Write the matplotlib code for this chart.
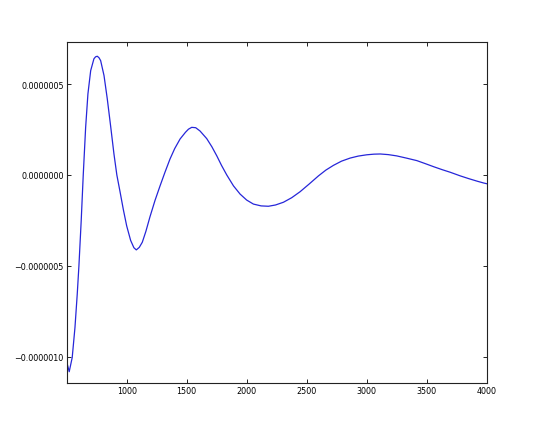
import matplotlib
matplotlib.use("Agg")
import matplotlib.pyplot as plt
from matplotlib.ticker import FuncFormatter

# data (x, y in units of 1e-7)
x_vals = [505, 521, 546, 569, 588, 602, 621, 638, 658, 677, 700, 727, 741, 755, 769,
          783, 811, 838, 866, 894, 918, 944, 972, 1000, 1033, 1060, 1080, 1105,
          1130, 1160, 1194, 1236, 1278, 1319, 1361, 1400, 1445, 1490, 1515, 1542,
          1575, 1611, 1667, 1710, 1751, 1790, 1834, 1890, 1945, 2000, 2056, 2120,
          2181, 2240, 2306, 2375, 2445, 2520, 2598, 2660, 2723, 2790, 2862, 2930,
          3000, 3060, 3113, 3180, 3250, 3330, 3418, 3490, 3560, 3630, 3696, 3780,
          3850, 3920, 3974, 4000]
y_vals_e7 = [-10.4, -10.82, -10.04, -8.39, -6.55, -4.99, -2.51, 0.0, 2.62, 4.46,
             5.74, 6.39, 6.5, 6.53, 6.45, 6.29, 5.47, 4.2, 2.7, 1.15, 0.0, -0.9,
             -1.9, -2.8, -3.6, -4.0, -4.12, -3.98, -3.7, -3.1, -2.3, -1.4, -0.6,
             0.15, 0.88, 1.45, 1.98, 2.35, 2.52, 2.62, 2.6, 2.42, 2.0, 1.55, 1.05,
             0.53, 0.0, -0.6, -1.05, -1.38, -1.6, -1.7, -1.72, -1.65, -1.5, -1.25,
             -0.92, -0.5, -0.05, 0.27, 0.53, 0.76, 0.93, 1.04, 1.11, 1.145, 1.155,
             1.12, 1.05, 0.93, 0.79, 0.62, 0.45, 0.29, 0.15, -0.05, -0.2, -0.34,
             -0.44, -0.48]
y_vals = [v * 1e-7 for v in y_vals_e7]

x_ticks = [1000, 1500, 2000, 2500, 3000, 3500, 4000]
y_ticks = [-1e-6, -5e-7, 0.0, 5e-7]

fig = plt.figure(figsize=(5.4, 4.27), dpi=100)
ax = fig.add_axes([0.1246, 0.1007, 0.9013 - 0.1246, 0.9 - 0.1007])
ax.plot(x_vals, y_vals, color=(0.15, 0.15, 0.85), linewidth=0.9)

ax.set_xlim(505, 4000)
ax.set_ylim(-1.144e-6, 7.33e-7)
ax.set_xticks(x_ticks)
ax.set_yticks(y_ticks)

def yfmt(v, pos):
    s = "%.7f" % v
    if abs(v) < 1e-12:
        s = "0.0000000"
    return s.replace("-", "\u2212")

ax.yaxis.set_major_formatter(FuncFormatter(yfmt))
ax.tick_params(direction="in", length=3, width=0.6, labelsize=5.8,
               top=True, right=True, pad=2.5, colors="black")
for sp in ax.spines.values():
    sp.set_linewidth(0.8)
    sp.set_color("#222222")

fig.savefig("out.png", dpi=100)
